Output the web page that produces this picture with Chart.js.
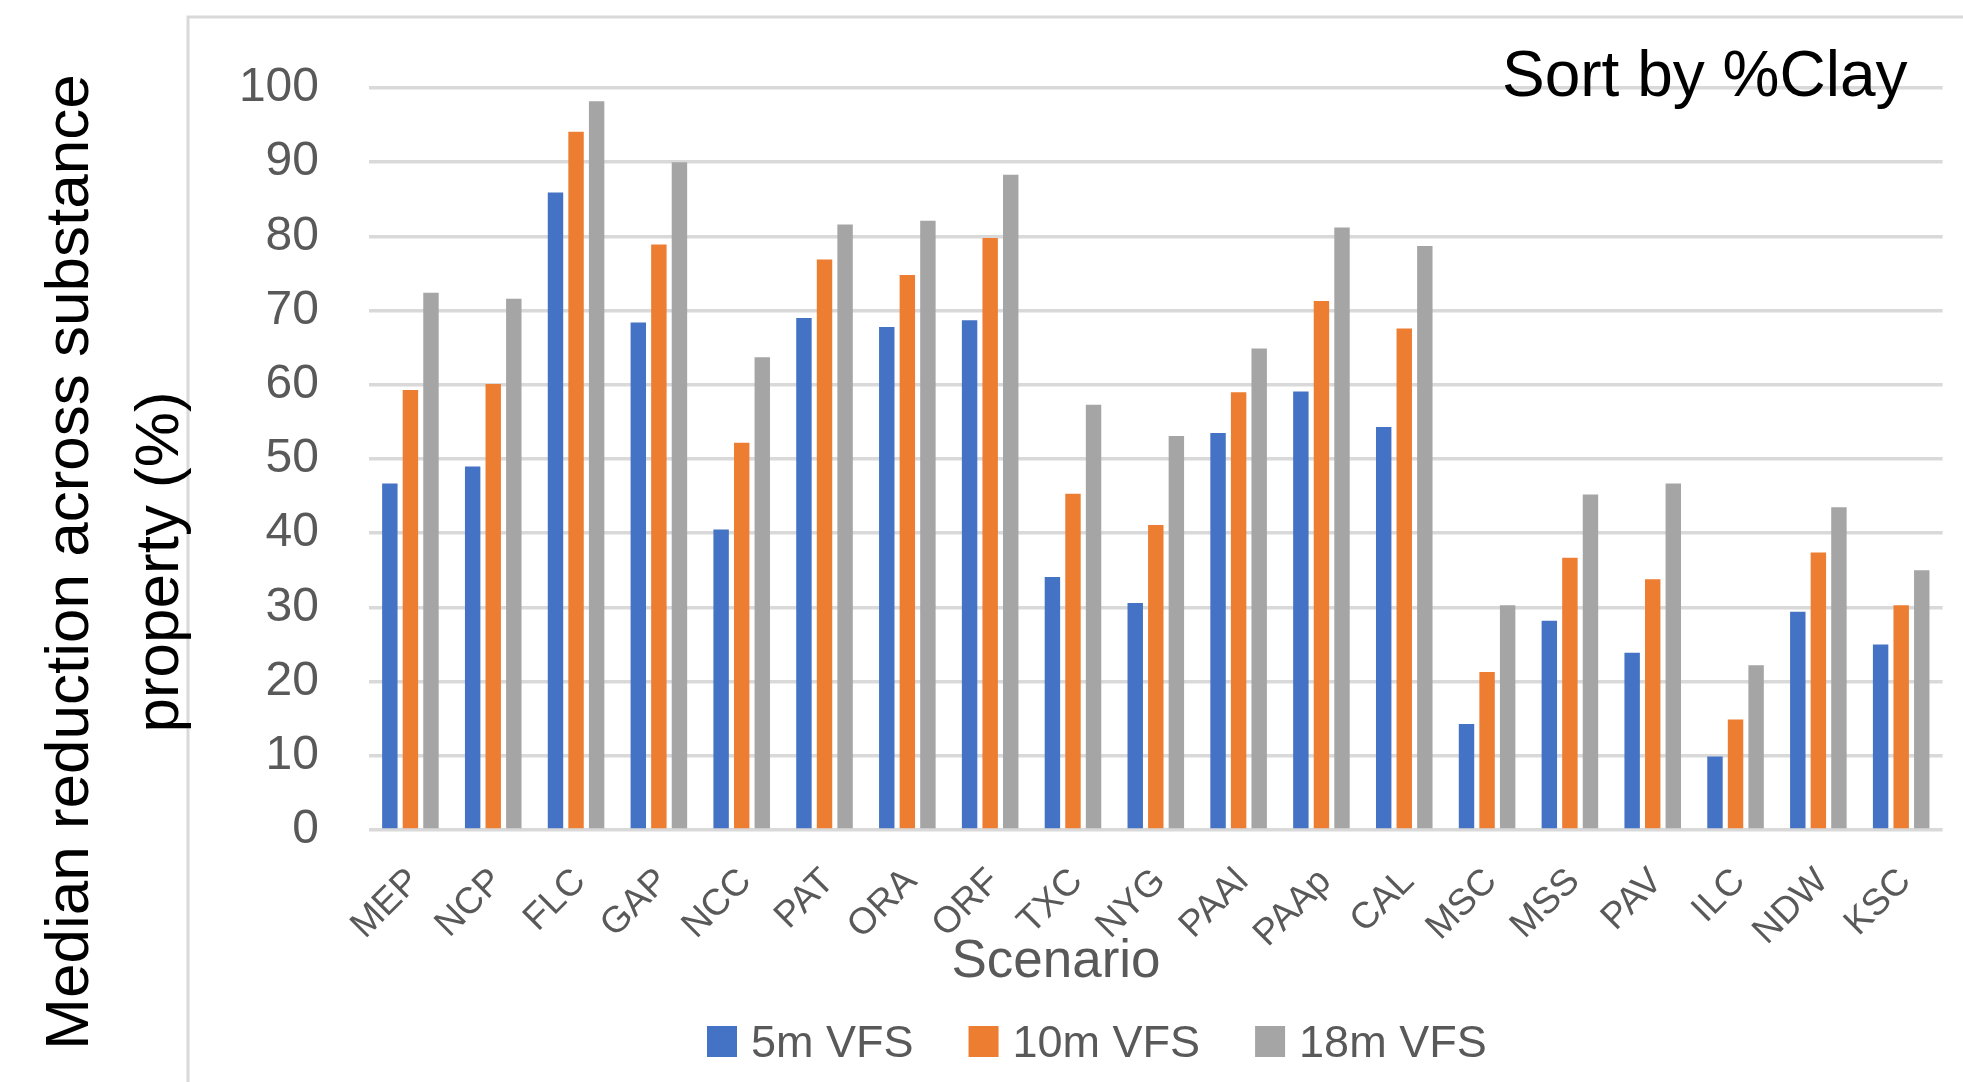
<!DOCTYPE html>
<html>
<head>
<meta charset="utf-8">
<title>Median reduction by scenario</title>
<script src="https://cdn.jsdelivr.net/npm/chart.js@4.4.1/dist/chart.umd.min.js"></script>
<style>
  html, body { margin: 0; padding: 0; background: #fff; }
  #wrap { width: 1963px; height: 1082px; position: relative; }
</style>
</head>
<body>
<div id="wrap"><canvas id="myChart"></canvas></div>
<script>
const scenarios = ['MEP', 'NCP', 'FLC', 'GAP', 'NCC', 'PAT', 'ORA', 'ORF', 'TXC', 'NYG',
  'PAAl', 'PAAp', 'CAL', 'MSC', 'MSS', 'PAV', 'ILC', 'NDW', 'KSC'];
const vfs5m = [46.7, 49.0, 85.9, 68.4, 40.5, 69.0, 67.8, 68.7, 34.1, 30.6,
  53.5, 59.1, 54.3, 14.3, 28.2, 23.9, 9.9, 29.4, 25.0];
const vfs10m = [59.3, 60.1, 94.1, 78.9, 52.2, 76.9, 74.8, 79.8, 45.3, 41.1,
  59.0, 71.3, 67.6, 21.3, 36.7, 33.8, 14.9, 37.4, 30.3];
const vfs18m = [72.4, 71.6, 98.2, 90.0, 63.7, 81.6, 82.1, 88.3, 57.3, 53.1,
  64.9, 81.2, 78.7, 30.3, 45.2, 46.7, 22.2, 43.5, 35.0];
const seriesNames = ['5m VFS', '10m VFS', '18m VFS'];
const seriesColors = ['#4472C4', '#ED7D31', '#A5A5A5'];
const yTicks = [0, 10, 20, 30, 40, 50, 60, 70, 80, 90, 100];

const FONT = "'Liberation Sans', Arial, sans-serif";
const TEXT_GREY = '#595959';

// frame, axis titles, note and legend drawn around the plot
const extras = {
  id: 'extras',
  beforeDraw(chart) {
    const ctx = chart.ctx;
    ctx.save();
    ctx.fillStyle = '#fff';
    ctx.fillRect(0, 0, chart.width, chart.height);
    ctx.strokeStyle = '#d9d9d9';
    ctx.lineWidth = 3;
    ctx.beginPath();
    ctx.moveTo(188, chart.height);
    ctx.lineTo(188, 17);
    ctx.lineTo(chart.width, 17);
    ctx.stroke();
    ctx.restore();
  },
  afterDraw(chart) {
    const ctx = chart.ctx;
    ctx.save();

    // y axis title, two lines
    ctx.fillStyle = '#000';
    ctx.font = '62px ' + FONT;
    ctx.textAlign = 'center';
    ctx.textBaseline = 'alphabetic';
    ctx.translate(0, 562);
    ctx.rotate(-Math.PI / 2);
    ctx.fillText('Median reduction across substance', 0, 88);
    ctx.fillText('property (%)', 0, 178);
    ctx.setTransform(1, 0, 0, 1, 0, 0);

    // note in the top right corner
    ctx.textAlign = 'left';
    ctx.font = '64px ' + FONT;
    ctx.fillText('Sort by %Clay', 1502, 96);

    // x axis title
    ctx.fillStyle = TEXT_GREY;
    ctx.textAlign = 'center';
    ctx.font = '53px ' + FONT;
    ctx.fillText('Scenario', 1056, 977);

    // legend
    ctx.textAlign = 'left';
    ctx.font = '45px ' + FONT;
    let x = 707;
    chart.data.datasets.forEach(ds => {
      ctx.fillStyle = ds.backgroundColor;
      ctx.fillRect(x, 1026, 30, 31);
      ctx.fillStyle = TEXT_GREY;
      ctx.fillText(ds.label, x + 44, 1057);
      x += 44 + ctx.measureText(ds.label).width + 55;
    });
    ctx.restore();
  }
};

const data = {
  labels: scenarios,
  datasets: [vfs5m, vfs10m, vfs18m].map((vals, i) => ({
    label: seriesNames[i],
    data: vals,
    backgroundColor: seriesColors[i],
    borderWidth: 0,
    barPercentage: 0.75,
    categoryPercentage: 0.745
  }))
};

const config = {
  type: 'bar',
  data: data,
  plugins: [extras],
  options: {
    responsive: true,
    maintainAspectRatio: false,
    animation: false,
    layout: { padding: { left: 0, top: 88, right: 16, bottom: 0 } },
    plugins: {
      legend: { display: false },
      tooltip: { enabled: false }
    },
    scales: {
      x: {
        grid: { display: false, drawTicks: false },
        border: { display: false },
        ticks: {
          autoSkip: false,
          minRotation: 45,
          maxRotation: 45,
          padding: 30,
          labelOffset: 4,
          color: TEXT_GREY,
          font: { family: FONT, size: 37 }
        },
        afterFit(scale) { scale.height = 252; }
      },
      y: {
        min: 0,
        max: 100,
        afterBuildTicks(scale) { scale.ticks = yTicks.map(v => ({ value: v })); },
        grid: { color: '#d9d9d9', lineWidth: 3.5, drawTicks: false },
        border: { display: false },
        ticks: {
          padding: 50,
          color: TEXT_GREY,
          font: { family: FONT, size: 48 }
        },
        afterFit(scale) { scale.width = 369; }
      }
    }
  }
};

const myChart = new Chart(
  document.getElementById('myChart'),
  config
);
</script>
</body>
</html>
